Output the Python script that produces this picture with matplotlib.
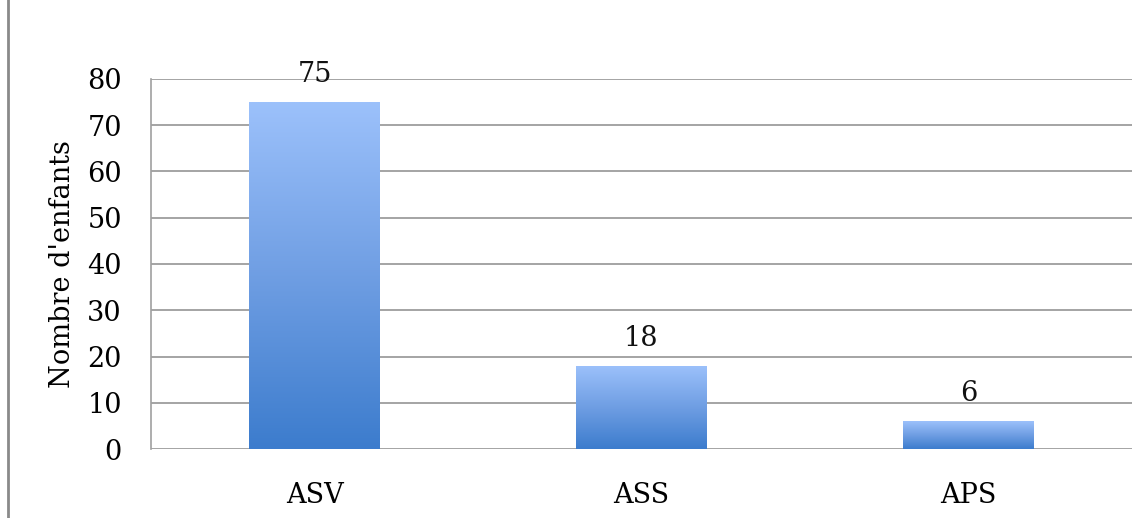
import numpy as np
import matplotlib.pyplot as plt
from matplotlib.colors import LinearSegmentedColormap
from matplotlib.lines import Line2D

# number of children per category
categories = ["ASV", "ASS", "APS"]
counts = [75, 18, 6]
yticks = [0, 10, 20, 30, 40, 50, 60, 70, 80]

plt.rcParams['font.family'] = ['DejaVu Serif']
fs = 19.5

fig = plt.figure(figsize=(11.45, 5.18), dpi=100)
ax = fig.add_axes([0.1319, 0.1332, 0.8567, 0.7143])

x = np.arange(len(categories))
bars = ax.bar(x, counts, width=0.4, color="none", edgecolor="none", zorder=3)

# vertical gradient, light at the top and darker at the bottom of every bar
grad_cmap = LinearSegmentedColormap.from_list("blues", ["#3c7ccd", "#6f9ee3", "#9cc1fb"])
grad = np.linspace(0, 1, 256).reshape(-1, 1)
for b in bars:
    x0, y0 = b.get_x(), b.get_y()
    im = ax.imshow(grad, cmap=grad_cmap, origin="lower", aspect="auto",
                   extent=[x0, x0 + b.get_width(), y0, y0 + b.get_height()],
                   zorder=3)
    im.set_clip_path(b)

for xi, v in zip(x, counts):
    ax.text(xi, v + 3.0, str(v), ha="center", va="bottom", fontsize=fs, color="#111111")

ax.set_xlim(-0.5, len(categories) - 0.5)
ax.set_ylim(0, 80)
ax.set_yticks(yticks)
ax.set_xticks(x)
ax.set_xticklabels(categories)
ax.tick_params(axis="y", length=0, pad=21, labelsize=fs)
ax.tick_params(axis="x", length=0, pad=24, labelsize=fs)
ax.set_ylabel("Nombre d'enfants", fontsize=fs, labelpad=8)

ax.grid(axis="y", color="#959595", linewidth=1.2, zorder=0)
ax.set_axisbelow(True)
for s in ["top", "right", "bottom"]:
    ax.spines[s].set_visible(False)
ax.spines["left"].set_color("#a0a0a0")
ax.spines["left"].set_linewidth(1.2)

# frame line along the left edge of the figure
fig.add_artist(Line2D([8 / 1145, 8 / 1145], [0, 1], transform=fig.transFigure,
                      color="#8a8a8a", linewidth=2))

fig.savefig("out.png", dpi=100)
